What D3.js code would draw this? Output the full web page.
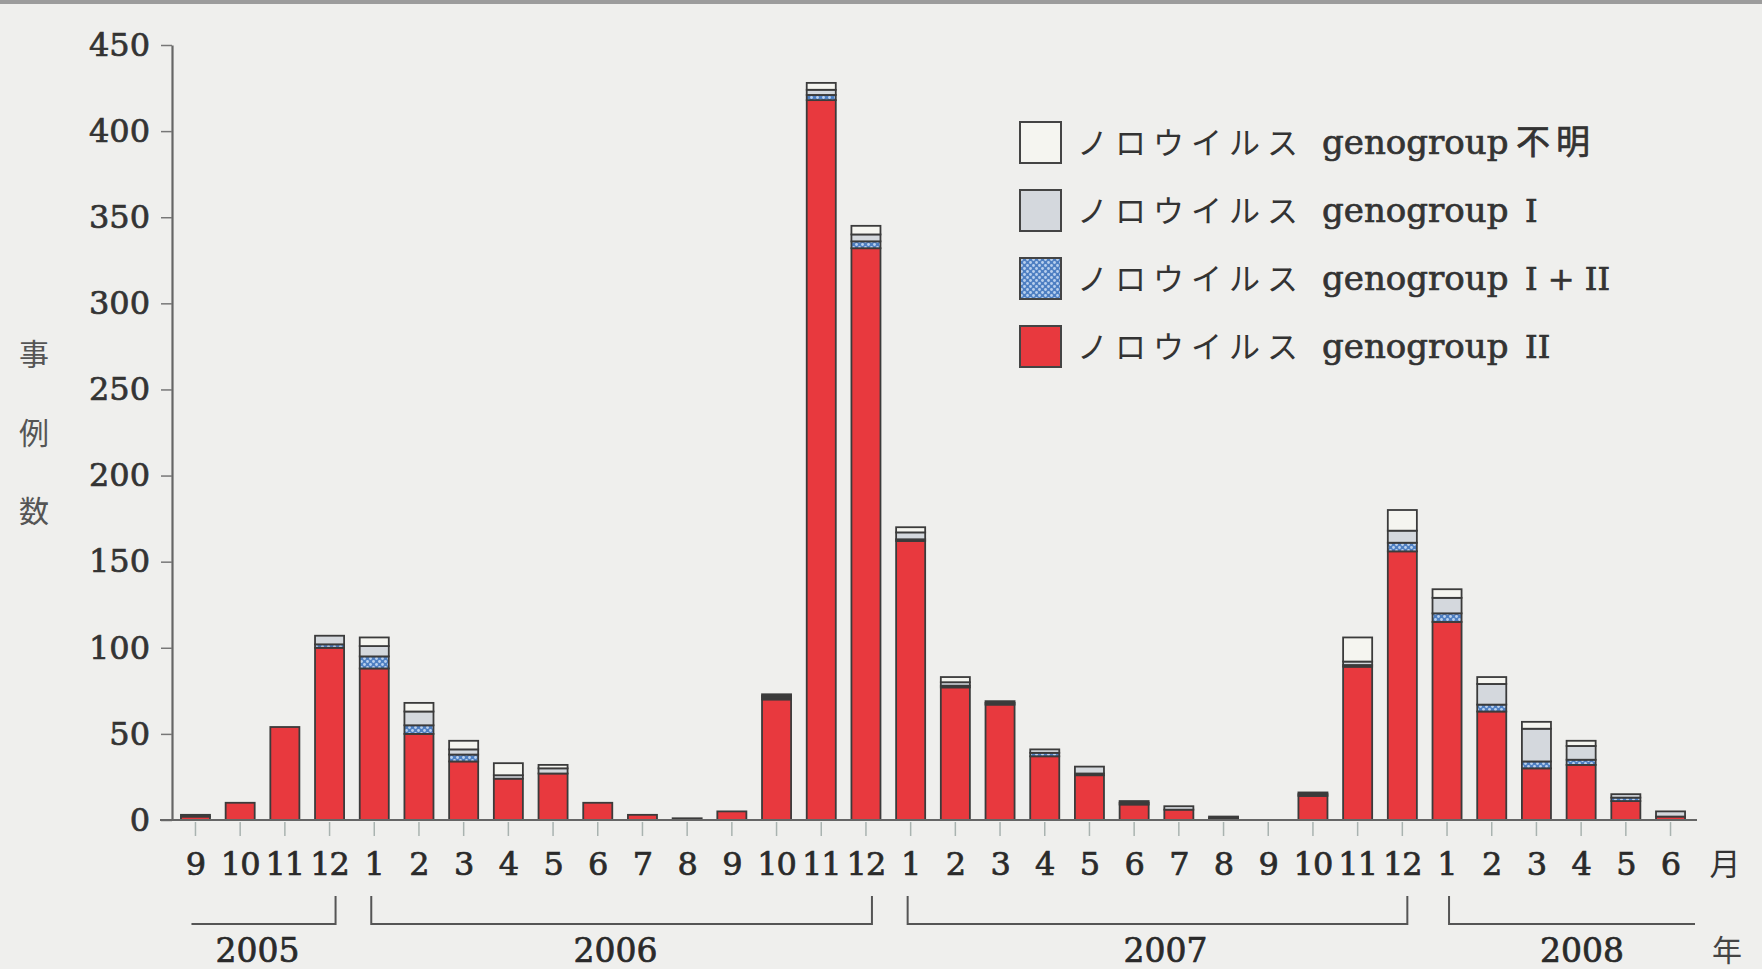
<!DOCTYPE html>
<html><head><meta charset="utf-8">
<script src="https://cdn.jsdelivr.net/npm/d3@7"></script>
<style>
html,body{margin:0;padding:0;background:#eeeeec;}
svg{display:block;}
</style></head>
<body>
<svg id="chart" width="1762" height="969"></svg>
<script>
// ---- data (top level, small named arrays) ----
const years  = [2005,2005,2005,2005, 2006,2006,2006,2006,2006,2006,2006,2006,2006,2006,2006,2006, 2007,2007,2007,2007,2007,2007,2007,2007,2007,2007,2007,2007, 2008,2008,2008,2008,2008,2008];
const months = [9,10,11,12, 1,2,3,4,5,6,7,8,9,10,11,12, 1,2,3,4,5,6,7,8,9,10,11,12, 1,2,3,4,5,6];
const gII     = [2,10,54,100, 88,50,34,24,27,10,3,1,5,70,418,332, 162,77,67,37,26,9,6,1,0,14,89,156, 115,63,30,32,11,2];
const gI_II   = [0,0,0,2, 7,5,4,0,0,0,0,0,0,1,3,4, 1,1,1,2,1,1,0,0,0,1,1,5, 5,4,4,3,2,0];
const gI      = [1,0,0,5, 6,8,3,2,3,0,0,0,0,1,3,4, 4,2,1,2,4,1,2,1,0,1,2,7, 9,12,19,8,2,3];
const unknown = [0,0,0,0, 5,5,5,7,2,0,0,0,0,1,4,5, 3,3,0,0,0,0,0,0,0,0,14,12, 5,4,4,3,0,0];
const yTicks = [0,50,100,150,200,250,300,350,400,450];
const seriesKeys = ["gII","gI_II","gI","unknown"];
const legendLabels = [
  {key:"unknown", kana:"ノロウイルス", suffix:"不明", cjk:true},
  {key:"gI", kana:"ノロウイルス", suffix:"I", cjk:false},
  {key:"gI_II", kana:"ノロウイルス", suffix:"I + II", cjk:false},
  {key:"gII", kana:"ノロウイルス", suffix:"II", cjk:false}
];
const yearLabels = ["2005","2006","2007","2008"];
const yAxisTitle = ["事","例","数"];

// ---- build table ----
const rows = months.map((m,i)=>({id: years[i]+"-"+m, month:m, year:years[i],
  gII:gII[i], gI_II:gI_II[i], gI:gI[i], unknown:unknown[i]}));

const svg = d3.select("#chart");
const serif = "'DejaVu Serif', 'Liberation Serif', serif";
const cjk = "'Noto Sans CJK JP', 'Noto Sans CJK SC', sans-serif";

// background + scan top border
svg.append("rect").attr("width",1762).attr("height",969).attr("fill","#efefed");
svg.append("rect").attr("width",1762).attr("height",4).attr("fill","#9c9c9c");

// pattern for GI+II
const defs = svg.append("defs");
const pat = defs.append("pattern").attr("id","chk").attr("width",6).attr("height",6)
  .attr("patternUnits","userSpaceOnUse");
pat.append("rect").attr("width",6).attr("height",6).attr("fill","#4e7fc2");
pat.append("circle").attr("cx",1.5).attr("cy",1.5).attr("r",1.4).attr("fill","#b9d0ee");
pat.append("circle").attr("cx",4.5).attr("cy",4.5).attr("r",1.4).attr("fill","#b9d0ee");

const colors = {gII:"#e8393e", gI_II:"url(#chk)", gI:"#d4d8dd", unknown:"#f5f5f0"};

const x = d3.scaleBand().domain(rows.map(d=>d.id)).range([172,1694]).paddingInner(0.35).paddingOuter(0.2);
const y = d3.scaleLinear().domain([0,450]).range([820,45]);

function heavy(sel, col){ return sel.attr("stroke",col).attr("stroke-width",0.7).attr("paint-order","stroke"); }

// y axis
const yAxis = svg.append("g").attr("transform","translate(172,0)")
  .call(d3.axisLeft(y).tickValues(yTicks).tickSize(11).tickPadding(11).tickSizeOuter(0));
yAxis.select(".domain").attr("stroke","#666").attr("stroke-width",2.2);
yAxis.selectAll(".tick line").attr("stroke","#777").attr("stroke-width",1.5);
heavy(yAxis.selectAll(".tick text").attr("font-family",serif).attr("font-size",32).attr("fill","#333"), "#333");

// x axis (labels + light ticks)
const xAxis = svg.append("g").attr("transform","translate(0,822)")
  .call(d3.axisBottom(x).tickFormat((d,i)=>rows[i].month).tickSize(14).tickPadding(16).tickSizeOuter(0));
xAxis.select(".domain").remove();
xAxis.selectAll(".tick line").attr("stroke","#a9b3b0").attr("stroke-width",1.5);
heavy(xAxis.selectAll(".tick text").attr("font-family",serif).attr("font-size",32).attr("fill","#2a2a2a")
  .attr("letter-spacing","-1"), "#2a2a2a");

// bars
const stack = d3.stack().keys(seriesKeys)(rows);
svg.append("g").selectAll("g").data(stack).join("g")
  .attr("fill", s=>colors[s.key])
  .selectAll("rect").data(s=>s.filter(d=>d[1]-d[0]>0)).join("rect")
  .attr("x", d=>x(d.data.id))
  .attr("width", x.bandwidth())
  .attr("y", d=>y(d[1]))
  .attr("height", d=>y(d[0])-y(d[1]))
  .attr("stroke","#3b3b3b").attr("stroke-width",1.8);

// x axis line
svg.append("line").attr("x1",160).attr("x2",1697).attr("y1",y(0)).attr("y2",y(0))
  .attr("stroke","#666").attr("stroke-width",2.2);

// "月"
svg.append("text").attr("x",1725).attr("y",875).attr("text-anchor","middle")
  .attr("font-family",cjk).attr("font-size",31).attr("fill","#333").text("月");

// year brackets
const cx = id => x(id) + x.bandwidth()/2;
const by = 924, bt = 896;
const brackets = [
  {from: cx("2005-9")-4, to: cx("2005-12")+6, leftTick:false, rightTick:true},
  {from: cx("2006-1")-3, to: cx("2006-12")+6, leftTick:true, rightTick:true},
  {from: cx("2007-1")-3, to: cx("2007-12")+5, leftTick:true, rightTick:true},
  {from: cx("2008-1")+2, to: 1695, leftTick:true, rightTick:false}
];
const bg = svg.append("g").attr("fill","none").attr("stroke","#555").attr("stroke-width",2);
brackets.forEach((b,i)=>{
  let p = "";
  if (b.leftTick) p += `M${b.from},${bt}L${b.from},${by}`; else p += `M${b.from},${by}`;
  p += `L${b.to},${by}`;
  if (b.rightTick) p += `L${b.to},${bt}`;
  bg.append("path").attr("d",p);
  heavy(svg.append("text").attr("x",(b.from+b.to)/2 + (i===2?8:(i===3?10:-6))).attr("y",962)
    .attr("text-anchor","middle").attr("font-family",serif).attr("font-size",33)
    .attr("fill","#2a2a2a").text(yearLabels[i]), "#2a2a2a");
});
svg.append("text").attr("x",1727).attr("y",961).attr("text-anchor","middle")
  .attr("font-family",cjk).attr("font-size",30).attr("fill","#444").text("年");

// y title
yAxisTitle.forEach((c,i)=>{
  svg.append("text").attr("x",34).attr("y",[354,433,511][i]).attr("dy","0.35em")
    .attr("text-anchor","middle").attr("font-family",cjk).attr("font-size",30)
    .attr("fill","#555").text(c);
});

// legend
const lg = svg.append("g");
legendLabels.forEach((l,i)=>{
  const cy = 142 + i*68;
  lg.append("rect").attr("x",1020).attr("y",cy-20).attr("width",41).attr("height",41)
    .attr("fill",colors[l.key]).attr("stroke","#444").attr("stroke-width",2);
  const t = lg.append("text").attr("y",cy+12).attr("fill","#333");
  t.append("tspan").attr("x",1077).attr("font-family",cjk).attr("font-size",31)
    .attr("letter-spacing","7").text(l.kana);
  heavy(t.append("tspan").attr("x",1322).attr("font-family",serif).attr("font-size",34).text("genogroup"), "#333");
  heavy(t.append("tspan").attr("x",l.cjk?1516:1525).attr("font-family",l.cjk?cjk:serif)
    .attr("font-size",l.cjk?34:32).attr("letter-spacing",l.cjk?"6":"0").text(l.suffix), "#333");
});
</script>
</body></html>
